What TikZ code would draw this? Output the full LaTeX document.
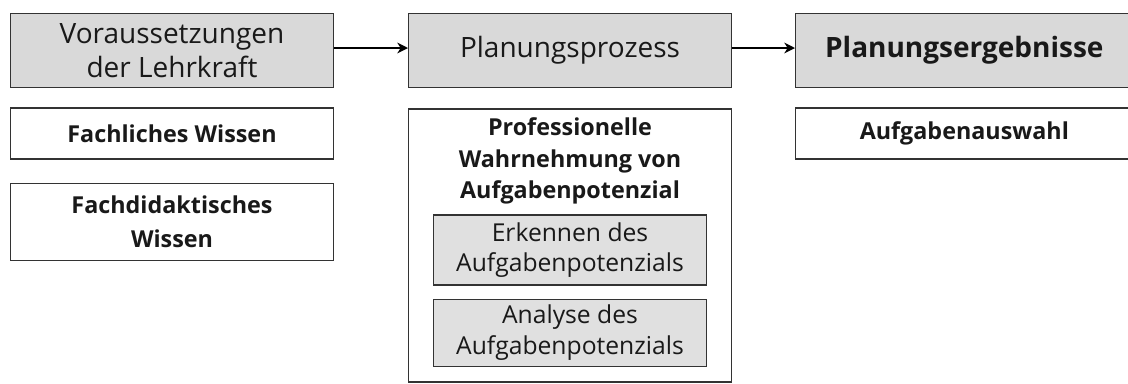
\documentclass[tikz,border=0pt]{standalone}
\usepackage{fontspec}
\setmainfont{Open Sans}
\usetikzlibrary{arrows.meta,positioning}

\begin{document}
\begin{tikzpicture} [
    headbox/.style={rectangle, draw=black!80, fill=black!15, line width=1pt, minimum width=242pt, minimum height=55.5pt, align=center, text=black!90, font=\fontsize{21}{25.5}\selectfont},
    itembox/.style={rectangle, draw=black!80, fill=white, line width=1pt, minimum width=242pt, align=center, text=black!90, font=\fontsize{17.5}{25}\selectfont\bfseries},
    innerbox/.style={rectangle, draw=black!80, fill=black!12, line width=1pt, minimum width=204.75pt, align=center, text=black!90, font=\fontsize{18.5}{23}\selectfont},
    >={Stealth[length=8pt,width=8pt,inset=2.5pt]}
    ]
    \useasboundingbox (0,0) rectangle (846pt,-287.25pt);
    %Nodes
    \node[headbox, anchor=north west] (vor) at (7.5pt,-9.75pt) {Voraussetzungen\\der Lehrkraft};
    \node[headbox] (plan) [right=55.5pt of vor] {Planungsprozess};
    \node[headbox, minimum width=253pt, font=\fontsize{21}{25.5}\selectfont\bfseries] (erg) [right=47.25pt of plan] {Planungsergebnisse};
    \node[itembox, minimum height=38.25pt] (fach) [below=14.25pt of vor] {Fachliches Wissen};
    \node[itembox, minimum height=57.75pt] (didak) [below=17.25pt of fach] {Fachdidaktisches\\Wissen};
    \node[itembox, minimum height=204.75pt] (rahmen) [below=15pt of plan] {};
    \node[align=center, inner sep=0pt, text=black!90, font=\fontsize{17.5}{23.6}\selectfont\bfseries] (wahrn) [below=7pt of rahmen.north] {Professionelle\\Wahrnehmung von\\Aufgabenpotenzial};
    \node[innerbox, minimum height=52.5pt] (erk) [below=79.5pt of rahmen.north] {Erkennen des\\Aufgabenpotenzials};
    \node[innerbox, minimum height=50.25pt] (ana) [below=9.75pt of erk] {Analyse des\\Aufgabenpotenzials};
    \node[itembox, minimum width=253pt, minimum height=38.25pt] (auswahl) [below=14.25pt of erg] {Aufgabenauswahl};
    %Lines
    \draw[->, line width=1.6pt] ([yshift=2pt]vor.east) -- ([yshift=2pt]plan.west);
    \draw[->, line width=1.6pt] ([yshift=2pt]plan.east) -- ([yshift=2pt]erg.west);
\end{tikzpicture}
\end{document}
